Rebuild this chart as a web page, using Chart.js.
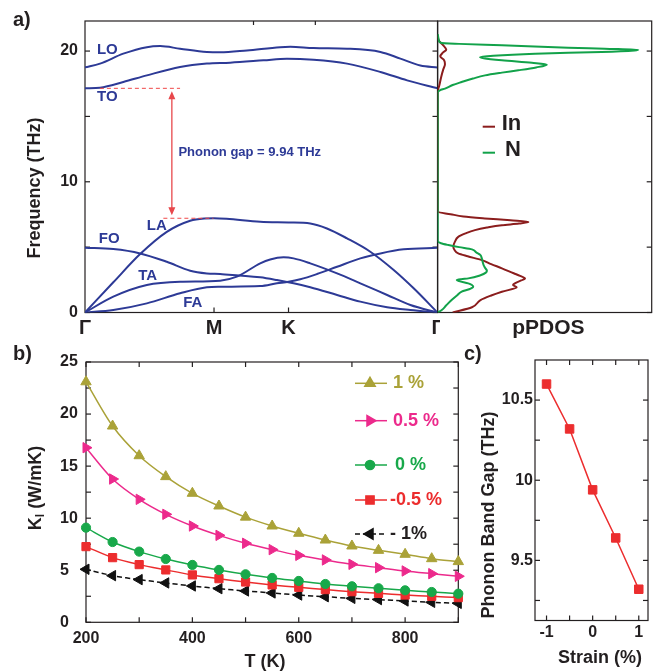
<!DOCTYPE html>
<html>
<head>
<meta charset="utf-8">
<script src="https://cdn.jsdelivr.net/npm/chart.js@4.4.1/dist/chart.umd.min.js"></script>
<style>
  html, body { margin: 0; padding: 0; background: #fff; }
  #fig { position: relative; width: 655px; height: 671px; overflow: hidden; }
  #fig canvas { position: absolute; }
  .tag { position: absolute; font: bold 20px 'Liberation Sans', Arial, sans-serif; color: #231f20; line-height: 24px; }
</style>
</head>
<body>
<div id="fig">
  <canvas id="disp" width="440" height="345" style="left:0;top:0"></canvas>
  <canvas id="pdos" width="218" height="345" style="left:437px;top:0"></canvas>
  <canvas id="kappa" width="470" height="336" style="left:0;top:335px"></canvas>
  <canvas id="gap" width="185" height="336" style="left:470px;top:335px"></canvas>
  <div class="tag" style="left:13px;top:7px">a)</div>
  <div class="tag" style="left:13px;top:341px">b)</div>
  <div class="tag" style="left:464px;top:341px">c)</div>
</div>
<script>
// ---------- a) phonon dispersion along Γ–M–K–Γ (path distance, THz) ----------
const pathTicks = [0, 0.866, 1.366, 2.366];
const pathLabels = ['Γ', 'M', 'K', 'Γ'];
const freqTicks = [0, 10, 20];
const bandLO = [[0,18.75],[0.101,19.04],[0.257,19.8],[0.415,20.3],[0.504,20.38],[0.638,20.18],[0.818,19.93],[0.907,19.9],[1.087,20.05],[1.31,20.3],[1.378,20.33],[1.534,20.23],[1.759,20.18],[1.983,19.93],[2.117,19.42],[2.251,18.9],[2.366,18.75]];
const bandTO = [[0,17.15],[0.101,17.2],[0.257,17.63],[0.415,18.14],[0.638,18.78],[0.818,19.04],[0.974,19.11],[1.198,19.29],[1.355,19.42],[1.534,19.34],[1.759,19.04],[1.983,18.4],[2.162,17.76],[2.366,17.15]];
const bandLA = [[0,0],[0.19,2.31],[0.37,4.47],[0.549,6.17],[0.706,7.02],[0.8,7.19],[0.866,7.21],[0.95,7.17],[1.176,6.94],[1.366,6.89],[1.512,6.81],[1.624,6.43],[1.759,5.67],[1.915,4.65],[2.072,3.25],[2.206,1.85],[2.366,0]];
const bandFO = [[0,4.95],[0.19,4.85],[0.37,4.52],[0.549,3.88],[0.706,3.2],[0.818,2.99],[0.907,2.94],[1.176,2.69],[1.288,2.48],[1.4,2.23],[1.512,1.93],[1.692,1.34],[1.848,0.83],[2.028,0.4],[2.184,0.19],[2.366,0]];
const bandTA = [[0,0],[0.19,1.21],[0.415,2.1],[0.638,2.35],[0.907,2.43],[1.019,2.74],[1.176,3.76],[1.243,4.06],[1.333,4.22],[1.4,4.14],[1.512,3.76],[1.692,2.99],[1.848,2.23],[2.028,1.34],[2.184,0.57],[2.366,0]];
const bandFA = [[0,0],[0.19,0.19],[0.415,0.7],[0.638,1.47],[0.818,1.93],[0.907,1.97],[1.176,2.02],[1.288,2.23],[1.366,2.35],[1.445,2.54],[1.557,2.94],[1.692,3.5],[1.848,4.14],[1.983,4.52],[2.139,4.83],[2.366,4.95]];
const gapTop = 17.15;     // TO branch at Γ
const gapBottom = 7.21;   // LA branch maximum

// ---------- a) projected phonon DOS: [frequency (THz), density (arb.)] ----------
const pdosTicks = [0, 5, 10, 15, 20];
const pdosIn = [[0,0.07],[0.4,0.16],[0.95,0.2],[1.3,0.25],[1.59,0.3],[1.93,0.369],[2.1,0.352],[2.23,0.361],[2.45,0.39],[2.61,0.408],[2.8,0.385],[3.0,0.355],[3.38,0.3],[3.7,0.25],[4.01,0.206],[4.3,0.14],[4.52,0.096],[4.8,0.078],[5.03,0.073],[5.4,0.08],[5.79,0.096],[6.05,0.13],[6.3,0.174],[6.5,0.23],[6.68,0.3],[6.8,0.38],[6.92,0.424],[7.05,0.34],[7.2,0.22],[7.35,0.12],[7.52,0.06],[7.7,0],[16.9,0],[17.4,0.008],[18.0,0.016],[18.6,0.026],[19.0,0.034],[19.3,0.03],[19.6,0.012],[19.9,0.025],[20.1,0.04],[20.45,0.025],[20.8,0.005],[21.2,0]];
const pdosN = [[0,0],[0.19,0.019],[0.55,0.04],[0.95,0.065],[1.3,0.09],[1.59,0.112],[1.8,0.15],[1.97,0.166],[2.1,0.16],[2.23,0.143],[2.4,0.1],[2.48,0.089],[2.55,0.11],[2.61,0.143],[2.85,0.2],[3.05,0.225],[3.19,0.23],[3.4,0.222],[3.6,0.215],[3.88,0.21],[4.2,0.205],[4.39,0.2],[4.6,0.18],[4.83,0.16],[5.0,0.1],[5.16,0.05],[5.3,0.015],[5.45,0],[16.85,0],[17.0,0.01],[17.13,0.034],[17.4,0.07],[17.63,0.112],[17.9,0.165],[18.14,0.221],[18.35,0.3],[18.53,0.377],[18.75,0.46],[18.96,0.51],[19.1,0.44],[19.29,0.3],[19.45,0.215],[19.54,0.198],[19.65,0.26],[19.8,0.455],[19.93,0.766],[20.05,0.92],[20.1,0.937],[20.18,0.78],[20.26,0.61],[20.44,0.3],[20.55,0.1],[20.62,0.017],[20.82,0.005],[21.3,0]];

// ---------- b) lattice thermal conductivity vs temperature ----------
const temps = [200,250,300,350,400,450,500,550,600,650,700,750,800,850,900];
const kappaP10 = [23.1,18.85,16.0,13.99,12.39,11.17,10.1,9.25,8.55,7.9,7.33,6.91,6.53,6.11,5.83];
const kappaP05 = [16.77,13.76,11.81,10.37,9.25,8.35,7.59,6.98,6.43,5.99,5.57,5.25,4.93,4.67,4.42];
const kappaZero = [9.09,7.71,6.79,6.08,5.51,5.03,4.61,4.26,3.97,3.68,3.46,3.27,3.07,2.91,2.75];
const kappaM05 = [7.27,6.21,5.54,5.03,4.55,4.19,3.87,3.59,3.36,3.14,2.94,2.78,2.62,2.5,2.37];
const kappaM10 = [5.09,4.48,4.1,3.78,3.49,3.23,3.01,2.82,2.62,2.46,2.3,2.18,2.05,1.92,1.82];
const tempTicks = [200, 400, 600, 800];
const kappaTicks = [0, 5, 10, 15, 20, 25];

// ---------- c) phonon band gap vs strain ----------
const strains = [-1, -0.5, 0, 0.5, 1];
const gapByStrain = [10.6, 10.32, 9.94, 9.64, 9.32];
const strainTicks = [-1, 0, 1];
const gapTicks = [9.5, 10, 10.5];

// ---------- shared styling ----------
const FONT = "'Liberation Sans', Arial, Helvetica, sans-serif";
const INK = '#231f20';
const BLUE = '#2d3a96';
const RED = '#ec2d2e';
const tickFont = { family: FONT, size: 16, weight: 'bold' };

function fixedTicks(values) {
  return s => { s.ticks = values.map(v => ({ value: v })); };
}
function fixedWidth(w) {
  return s => { s.width = w; s.paddingTop = 0; s.paddingBottom = 0; s.paddingLeft = 0; s.paddingRight = 0; };
}
function fixedHeight(h) {
  return s => { s.height = h; s.paddingLeft = 0; s.paddingRight = 0; s.paddingTop = 0; s.paddingBottom = 0; };
}

// Frame around the plot area plus inward-pointing tick marks
function framePlugin(marks) {
  return {
    id: 'frame',
    beforeDatasetsDraw(chart) {
      const { ctx, chartArea: a, scales } = chart;
      ctx.save();
      ctx.strokeStyle = INK;
      ctx.lineWidth = 1.2;
      ctx.strokeRect(a.left, a.top, a.right - a.left, a.bottom - a.top);
      marks.forEach(m => {
        const s = scales[m.axis];
        m.values.forEach(v => {
          const p = s.getPixelForValue(v);
          m.sides.forEach(side => {
            ctx.beginPath();
            if (side === 'bottom') { ctx.moveTo(p, a.bottom); ctx.lineTo(p, a.bottom - m.len); }
            if (side === 'top') { ctx.moveTo(p, a.top); ctx.lineTo(p, a.top + m.len); }
            if (side === 'left') { ctx.moveTo(a.left, p); ctx.lineTo(a.left + m.len, p); }
            if (side === 'right') { ctx.moveTo(a.right, p); ctx.lineTo(a.right - m.len, p); }
            ctx.stroke();
          });
        });
      });
      ctx.restore();
    }
  };
}

// Bold text made of parts (allows a lowered subscript), optionally rotated
function drawRich(ctx, item) {
  ctx.save();
  ctx.translate(item.x, item.y);
  if (item.rot) ctx.rotate(item.rot);
  ctx.fillStyle = item.color || INK;
  ctx.textBaseline = 'middle';
  ctx.textAlign = 'left';
  const parts = item.parts || [{ t: item.text }];
  let total = 0;
  parts.forEach(p => {
    ctx.font = `bold ${p.size || item.size}px ${FONT}`;
    p.w = ctx.measureText(p.t).width;
    total += p.w;
  });
  let x = item.align === 'left' ? 0 : item.align === 'right' ? -total : -total / 2;
  parts.forEach(p => {
    ctx.font = `bold ${p.size || item.size}px ${FONT}`;
    ctx.fillText(p.t, x, p.dy || 0);
    x += p.w;
  });
  ctx.restore();
}

function textPlugin(items, extra) {
  return {
    id: 'texts',
    afterDraw(chart) {
      const ctx = chart.ctx;
      items.forEach(it => drawRich(ctx, it));
      if (extra) extra(chart);
    }
  };
}

const baseOptions = (padding) => ({
  responsive: false,
  animation: false,
  events: [],
  layout: { padding },
  plugins: { legend: { display: false }, tooltip: { enabled: false }, title: { display: false } }
});

// ================= a) dispersion =================
const bands = [bandLO, bandTO, bandLA, bandFO, bandTA, bandFA];
const bandNotes = [
  { text: 'LO', k: 0.15, f: 20.1 },
  { text: 'TO', k: 0.15, f: 16.5 },
  { text: 'LA', k: 0.482, f: 6.6 },
  { text: 'FO', k: 0.163, f: 5.67 },
  { text: 'TA', k: 0.421, f: 2.8 },
  { text: 'FA', k: 0.724, f: 0.72 }
];

function drawGapMarks(chart) {
  const { ctx, scales: { x, y } } = chart;
  ctx.save();
  // branch labels
  bandNotes.forEach(n => drawRich(ctx, { text: n.text, x: x.getPixelForValue(n.k), y: y.getPixelForValue(n.f), size: 15, color: BLUE }));
  // dashed guides at the gap edges
  ctx.strokeStyle = '#f04848';
  ctx.lineWidth = 1;
  ctx.setLineDash([4, 3]);
  ctx.beginPath();
  ctx.moveTo(x.getPixelForValue(0.1), y.getPixelForValue(gapTop));
  ctx.lineTo(x.getPixelForValue(0.638), y.getPixelForValue(gapTop));
  ctx.moveTo(x.getPixelForValue(0.526), y.getPixelForValue(gapBottom));
  ctx.lineTo(x.getPixelForValue(0.862), y.getPixelForValue(gapBottom));
  ctx.stroke();
  ctx.setLineDash([]);
  // double-headed arrow spanning the gap
  const ax = x.getPixelForValue(0.583);
  const yTop = y.getPixelForValue(gapTop) + 3;
  const yBot = y.getPixelForValue(gapBottom) - 3;
  ctx.strokeStyle = '#e8474b';
  ctx.fillStyle = '#e8474b';
  ctx.lineWidth = 1.3;
  ctx.beginPath();
  ctx.moveTo(ax, yTop + 6); ctx.lineTo(ax, yBot - 6);
  ctx.stroke();
  ctx.beginPath();
  ctx.moveTo(ax, yTop); ctx.lineTo(ax - 3.5, yTop + 8); ctx.lineTo(ax + 3.5, yTop + 8); ctx.closePath();
  ctx.moveTo(ax, yBot); ctx.lineTo(ax - 3.5, yBot - 8); ctx.lineTo(ax + 3.5, yBot - 8); ctx.closePath();
  ctx.fill();
  ctx.restore();
  drawRich(ctx, { text: `Phonon gap = ${(gapTop - gapBottom).toFixed(2)} THz`, x: x.getPixelForValue(0.627), y: y.getPixelForValue(12.28), size: 13, color: BLUE, align: 'left' });
}

new Chart(document.getElementById('disp'), {
  type: 'line',
  data: {
    datasets: bands.map(b => ({
      data: b.map(([k, f]) => ({ x: k, y: f })),
      borderColor: BLUE,
      borderWidth: 2,
      pointRadius: 0,
      cubicInterpolationMode: 'monotone',
      fill: false
    }))
  },
  options: Object.assign(baseOptions({ top: 21, right: 2.5, left: 0, bottom: 0 }), {
    scales: {
      x: {
        type: 'linear', min: 0, max: 2.366,
        afterBuildTicks: fixedTicks(pathTicks),
        afterFit: fixedHeight(32.5),
        grid: { display: false, drawTicks: false }, border: { display: false },
        ticks: { autoSkip: false, maxRotation: 0, padding: 3.5, color: INK,
                 font: { family: FONT, size: 20, weight: 'bold' },
                 callback: (v, i) => pathLabels[i] }
      },
      y: {
        type: 'linear', min: 0, max: 22.3,
        afterBuildTicks: fixedTicks(freqTicks),
        afterFit: fixedWidth(85),
        grid: { display: false, drawTicks: false }, border: { display: false },
        ticks: { padding: 7, color: INK, font: tickFont, callback: v => String(v) }
      }
    }
  }),
  plugins: [
    framePlugin([
      { axis: 'y', values: [0, 5, 10, 15, 20], sides: ['left', 'right'], len: 5 },
      { axis: 'x', values: [0.866, 1.366], sides: ['bottom'], len: 5 },
      { axis: 'x', values: [1.131, 1.546], sides: ['top'], len: 4 }
    ]),
    textPlugin([
      { text: 'Frequency (THz)', x: 35, y: 188, rot: -Math.PI / 2, size: 18 }
    ], drawGapMarks)
  ]
});

// ================= a) pPDOS =================
function drawPdosLegend(chart) {
  const ctx = chart.ctx;
  ctx.save();
  ctx.lineWidth = 2;
  [[ '#8b1d1d', 126.7 ], [ '#12a24a', 152.7 ]].forEach(([c, y]) => {
    ctx.strokeStyle = c;
    ctx.beginPath(); ctx.moveTo(45.7, y); ctx.lineTo(58, y); ctx.stroke();
  });
  ctx.restore();
  drawRich(ctx, { text: 'In', x: 64.7, y: 124, size: 22, align: 'left' });
  drawRich(ctx, { text: 'N', x: 68, y: 150, size: 22, align: 'left' });
}

new Chart(document.getElementById('pdos'), {
  type: 'line',
  data: {
    datasets: [
      { label: 'N', data: pdosN.map(([f, d]) => ({ x: d, y: f })), borderColor: '#12a24a' },
      { label: 'In', data: pdosIn.map(([f, d]) => ({ x: d, y: f })), borderColor: '#8b1d1d' }
    ].map(ds => Object.assign(ds, { borderWidth: 2, pointRadius: 0, cubicInterpolationMode: 'monotone', fill: false }))
  },
  options: Object.assign(baseOptions({ top: 21, right: 3.3, left: 0.7, bottom: 32.5 }), {
    indexAxis: 'y',
    scales: {
      x: { type: 'linear', min: 0, max: 1, display: false },
      y: { type: 'linear', min: 0, max: 22.3, display: false }
    }
  }),
  plugins: [
    framePlugin([{ axis: 'y', values: pdosTicks, sides: ['right'], len: 5 }]),
    textPlugin([{ text: 'pPDOS', x: 111.3, y: 328, size: 21 }], drawPdosLegend)
  ]
});

// ================= b) thermal conductivity =================
const kappaSeries = [
  { name: '1 %',    values: kappaP10,  color: '#aaa238', style: 'triangle', rot: 0,   radius: 6,   dash: [] },
  { name: '0.5 %',  values: kappaP05,  color: '#ec2a8c', style: 'triangle', rot: 90,  radius: 6,   dash: [] },
  { name: '0 %',    values: kappaZero, color: '#18a84a', style: 'circle',   rot: 0,   radius: 4.6, dash: [] },
  { name: '-0.5 %', values: kappaM05,  color: '#ec2d2e', style: 'rect',     rot: 0,   radius: 5.8, dash: [] },
  { name: '- 1%',   values: kappaM10,  color: '#111111', style: 'triangle', rot: -90, radius: 6,   dash: [5, 3] }
];
// legend rows: vertical centre and text start inside the canvas
const legendRows = [[48.3, 393], [85.7, 393], [130, 395], [165, 390], [199, 390]];

function drawKappaLegend(chart) {
  const ctx = chart.ctx;
  kappaSeries.forEach((s, i) => {
    const [y, tx] = legendRows[i];
    ctx.save();
    ctx.strokeStyle = s.color;
    ctx.fillStyle = s.color;
    ctx.lineWidth = 1.5;
    ctx.setLineDash(s.dash);
    ctx.beginPath(); ctx.moveTo(355, y); ctx.lineTo(387, y); ctx.stroke();
    ctx.setLineDash([]);
    Chart.helpers.drawPoint(ctx, { pointStyle: s.style, radius: s.radius, rotation: s.rot, borderWidth: 1 }, 370, y);
    ctx.restore();
    drawRich(ctx, { text: s.name, x: tx, y: y, size: 18, color: s.color === '#111111' ? INK : s.color, align: 'left' });
  });
}

new Chart(document.getElementById('kappa'), {
  type: 'line',
  data: {
    datasets: kappaSeries.map(s => ({
      label: s.name,
      data: temps.map((t, i) => ({ x: t, y: s.values[i] })),
      borderColor: s.color,
      backgroundColor: s.color,
      borderWidth: 1.5,
      borderDash: s.dash,
      tension: 0.3,
      pointStyle: s.style,
      pointRotation: s.rot,
      pointRadius: s.radius,
      pointBorderWidth: 1,
      pointBorderColor: s.color,
      pointBackgroundColor: s.color,
      clip: false,
      fill: false
    }))
  },
  options: Object.assign(baseOptions({ top: 27, right: 11.7, left: 60, bottom: 0 }), {
    scales: {
      x: {
        type: 'linear', min: 200, max: 900,
        afterBuildTicks: fixedTicks(tempTicks),
        afterFit: fixedHeight(48.7),
        grid: { display: false, drawTicks: false }, border: { display: false },
        ticks: { autoSkip: false, maxRotation: 0, padding: 6.4, color: INK, font: tickFont, callback: v => String(v) }
      },
      y: {
        type: 'linear', min: 0, max: 25,
        afterBuildTicks: fixedTicks(kappaTicks),
        afterFit: fixedWidth(26),
        grid: { display: false, drawTicks: false }, border: { display: false },
        ticks: { crossAlign: 'far', padding: 4, color: INK, font: tickFont, callback: v => String(v) }
      }
    }
  }),
  plugins: [
    framePlugin([
      { axis: 'y', values: [0, 2.5, 5, 7.5, 10, 12.5, 15, 17.5, 20, 22.5, 25], sides: ['left', 'right'], len: 5 },
      { axis: 'x', values: [200, 300, 400, 500, 600, 700, 800, 900], sides: ['top', 'bottom'], len: 5 }
    ]),
    textPlugin([
      { parts: [{ t: 'K', size: 18 }, { t: 'l', size: 12, dy: 5 }, { t: ' (W/mK)', size: 18 }], x: 36, y: 153, rot: -Math.PI / 2 },
      { text: 'T (K)', x: 265, y: 326.7, size: 18 }
    ], drawKappaLegend)
  ]
});

// ================= c) band gap vs strain =================
new Chart(document.getElementById('gap'), {
  type: 'line',
  data: {
    datasets: [{
      data: strains.map((s, i) => ({ x: s, y: gapByStrain[i] })),
      borderColor: RED,
      backgroundColor: RED,
      borderWidth: 1.5,
      pointStyle: 'rect',
      pointRadius: 6,
      pointBorderWidth: 1,
      pointBackgroundColor: RED,
      pointBorderColor: RED,
      clip: false,
      fill: false
    }]
  },
  options: Object.assign(baseOptions({ top: 25, right: 3.5, left: 0, bottom: 0 }), {
    scales: {
      x: {
        type: 'linear', min: -1.25, max: 1.2,
        afterBuildTicks: fixedTicks(strainTicks),
        afterFit: fixedHeight(50.5),
        grid: { display: false, drawTicks: false }, border: { display: false },
        ticks: { autoSkip: false, maxRotation: 0, padding: 2, color: INK, font: tickFont, callback: v => String(v) }
      },
      y: {
        type: 'linear', min: 9.125, max: 10.75,
        afterBuildTicks: fixedTicks(gapTicks),
        afterFit: fixedWidth(65),
        grid: { display: false, drawTicks: false }, border: { display: false },
        ticks: { padding: 2, color: INK, font: tickFont, callback: v => String(v) }
      }
    }
  }),
  plugins: [
    framePlugin([
      { axis: 'y', values: [9.25, 9.5, 9.75, 10, 10.25, 10.5], sides: ['left', 'right'], len: 5 },
      { axis: 'x', values: [-1, -0.5, 0, 0.5, 1], sides: ['top', 'bottom'], len: 5 }
    ]),
    textPlugin([
      { text: 'Phonon Band Gap (THz)', x: 19, y: 180, rot: -Math.PI / 2, size: 18 },
      { text: 'Strain (%)', x: 130, y: 323.3, size: 18 }
    ])
  ]
});
</script>
</body>
</html>
